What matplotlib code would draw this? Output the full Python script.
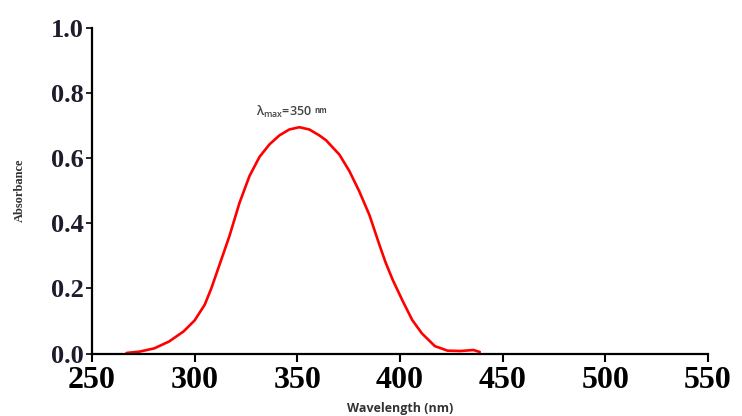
import matplotlib
matplotlib.use("Agg")
import matplotlib.pyplot as plt

# UV-Vis spectrum, values
wavelength = [266.8, 273.1, 280.3, 287.5, 294.6, 300.0, 304.9, 308.1, 311.3,
              314.6, 317.0, 321.8, 326.7, 331.6, 336.4, 341.3, 346.1, 351.0,
              355.9, 360.7, 364.0, 370.5, 375.4, 380.2, 385.1, 390.0, 393.0,
              396.5, 401.3, 406.0, 410.7, 417.0, 423.2, 429.5, 435.8, 438.9]
absorbance = [0.002, 0.006, 0.016, 0.037, 0.068, 0.102, 0.150, 0.200, 0.258,
              0.318, 0.362, 0.462, 0.545, 0.604, 0.642, 0.670, 0.688, 0.695,
              0.688, 0.670, 0.655, 0.611, 0.560, 0.498, 0.426, 0.334, 0.280,
              0.226, 0.162, 0.103, 0.062, 0.023, 0.009, 0.008, 0.011, 0.005]

x_ticks = [250, 300, 350, 400, 450, 500, 550]
y_ticks = [0.0, 0.2, 0.4, 0.6, 0.8, 1.0]
y_tick_labels = ["0.0", "0.2", "0.4", "0.6", "0.8", "1.0"]

fig = plt.figure(figsize=(7.42, 4.16), dpi=100)
ax = fig.add_axes([0.124, 0.150, 0.830, 0.783])

ax.plot(wavelength, absorbance, color="#ff0000", lw=1.9,
        solid_capstyle="round", solid_joinstyle="round")

ax.set_xlim(250, 550)
ax.set_ylim(0, 1.0)
ax.spines["top"].set_visible(False)
ax.spines["right"].set_visible(False)
ax.spines["left"].set_linewidth(1.6)
ax.spines["bottom"].set_linewidth(1.6)

ax.set_xticks(x_ticks)
ax.set_xticklabels([str(t) for t in x_ticks])
ax.set_yticks(y_ticks)
ax.set_yticklabels(y_tick_labels)
ax.tick_params(axis="x", direction="out", length=6, width=1.5, pad=3)
ax.tick_params(axis="y", direction="out", length=4, width=1.2, pad=2)

for lab in ax.get_xticklabels():
    lab.set_fontfamily("Liberation Serif")
    lab.set_fontweight("bold")
    lab.set_fontsize(23)
for lab in ax.get_yticklabels():
    lab.set_fontfamily("Liberation Serif")
    lab.set_fontweight("bold")
    lab.set_fontsize(19)
    lab.set_color("#1c1c2c")

ax.set_xlabel("Wavelength (nm)", family="Open Sans", fontweight="bold",
              fontsize=9, color="#333333", labelpad=5)
ax.set_ylabel("Absorbance", family="Liberation Serif", fontweight="bold",
              fontsize=9, color="#333333", labelpad=18)

# peak annotation
ax.text(330, 0.741, "λ$_{\\mathregular{max}}$=350", family="Open Sans",
        fontsize=9, fontweight="semibold", color="#444444", va="center", ha="left")
ax.text(358.3, 0.746, "nm", family="Open Sans", fontsize=5.5, fontweight="bold",
        color="#444444", va="center", ha="left")

fig.savefig("out.png", dpi=100)
